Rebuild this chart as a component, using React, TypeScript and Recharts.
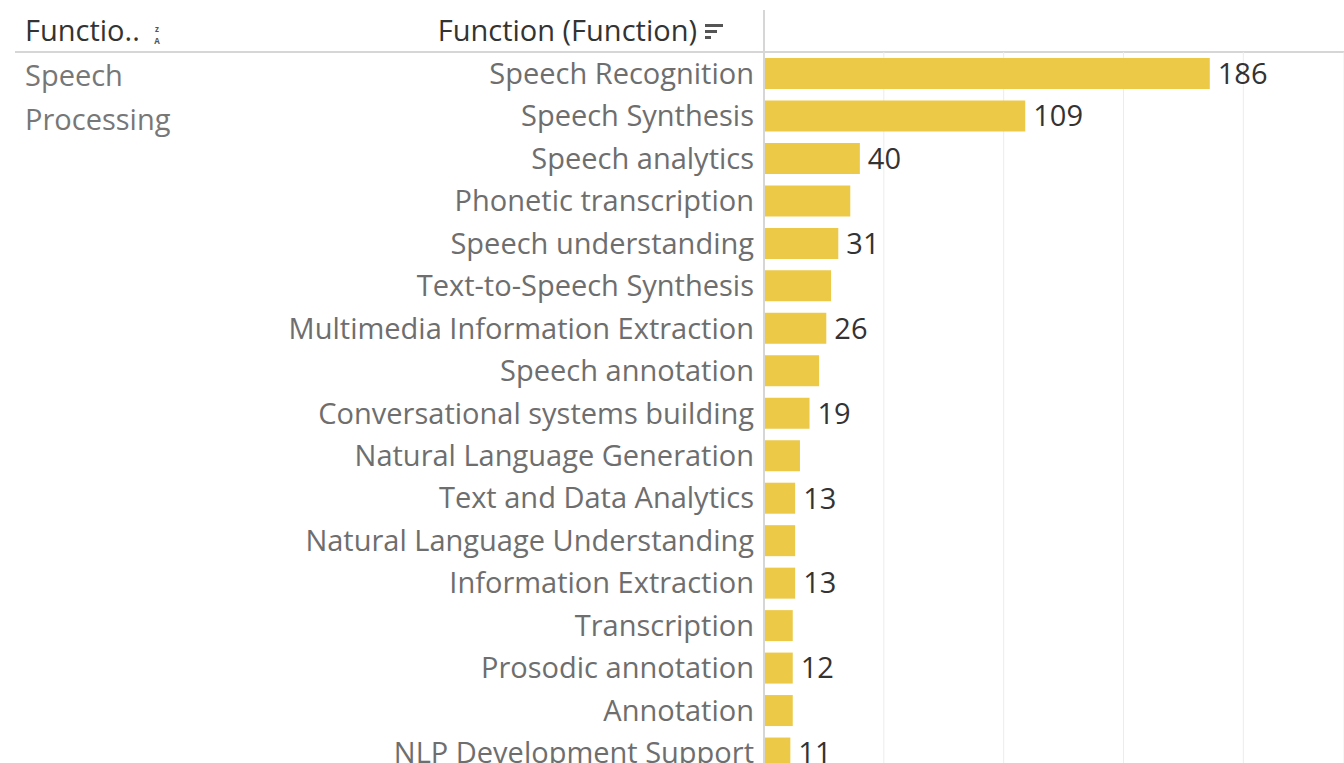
import { BarChart, Bar, XAxis, YAxis, CartesianGrid, LabelList } from 'recharts';

const functions = [
  'Speech Recognition',
  'Speech Synthesis',
  'Speech analytics',
  'Phonetic transcription',
  'Speech understanding',
  'Text-to-Speech Synthesis',
  'Multimedia Information Extraction',
  'Speech annotation',
  'Conversational systems building',
  'Natural Language Generation',
  'Text and Data Analytics',
  'Natural Language Understanding',
  'Information Extraction',
  'Transcription',
  'Prosodic annotation',
  'Annotation',
  'NLP Development Support',
];
const counts = [186, 109, 40, 36, 31, 28, 26, 23, 19, 15, 13, 13, 13, 12, 12, 12, 11];
// Tableau hides labels that would collide, only these are drawn
const labelShown = [true, true, true, false, true, false, true, false, true, false, true, false, true, false, true, false, true];
const xTicks = [0, 50, 100, 150, 200];
const groupLabel = ['Speech', 'Processing'];

const data = functions.map((name, i) => ({
  name,
  count: counts[i],
  label: labelShown[i] ? String(counts[i]) : '',
}));

const BAR = '#EDC948';
const FONT = '"Open Sans", Lato, sans-serif';
const FS = 29;

function CategoryTick({ x, y, payload }: any) {
  return (
    <text x={x} y={y - 1} textAnchor="end" dominantBaseline="central" fill="#6e6e6e" fontSize={FS}>
      {payload.value}
    </text>
  );
}

function SortIcon() {
  return (
    <svg width={20} height={20} style={{ position: 'absolute', left: 705, top: 22 }}>
      <rect x={0} y={2} width={18} height={3} fill="#555" />
      <rect x={0} y={8} width={12} height={3} fill="#555" />
      <rect x={0} y={14} width={6} height={3} fill="#555" />
    </svg>
  );
}

// little z/A sort marker next to the first header
function AlphaIcon() {
  return (
    <svg width={12} height={24} style={{ position: 'absolute', left: 151, top: 23 }}>
      <text x={6} y={9} textAnchor="middle" fontSize={8} fontWeight={700} fill="#555">z</text>
      <text x={6} y={21} textAnchor="middle" fontSize={8} fontWeight={700} fill="#555">A</text>
    </svg>
  );
}

export default function App() {
  return (
    <div style={{ position: 'relative', width: 1344, height: 763, overflow: 'hidden', fontFamily: FONT, background: '#fff' }}>
      <style>{'body{margin:0}'}</style>

      {/* header row */}
      <div style={{ position: 'absolute', left: 25, top: 10, fontSize: FS, color: '#333', lineHeight: '40px' }}>
        Functio..
      </div>
      <AlphaIcon />
      <div style={{ position: 'absolute', right: 1344 - 697, top: 10, fontSize: FS, color: '#333', lineHeight: '40px', whiteSpace: 'nowrap' }}>
        Function (Function)
      </div>
      <SortIcon />
      <div style={{ position: 'absolute', left: 15, top: 51, width: 1329, height: 2, background: '#d6d6d6' }} />
      <div style={{ position: 'absolute', left: 763, top: 10, width: 2, height: 42, background: '#d6d6d6' }} />

      {/* group column */}
      <div style={{ position: 'absolute', left: 25, top: 53, fontSize: FS, color: '#777', lineHeight: '44px' }}>
        {groupLabel.map(g => (
          <div key={g}>{g}</div>
        ))}
      </div>

      <div style={{ position: 'absolute', left: 0, top: 0 }}>
        <BarChart
          width={1344}
          height={774}
          data={data}
          layout="vertical"
          margin={{ top: 52, right: 0, bottom: 0, left: 0 }}
        >
          <CartesianGrid horizontal={false} stroke="#ececec" />
          <XAxis type="number" domain={[0, 242]} ticks={xTicks} hide />
          <YAxis
            type="category"
            dataKey="name"
            width={764}
            interval={0}
            tickLine={false}
            tickMargin={4}
            axisLine={{ stroke: '#d6d6d6', strokeWidth: 2 }}
            tick={<CategoryTick />}
          />
          <Bar dataKey="count" fill={BAR} barSize={31} isAnimationActive={false}>
            <LabelList dataKey="label" position="right" offset={8} fill="#333" fontSize={FS} />
          </Bar>
        </BarChart>
      </div>
    </div>
  );
}
